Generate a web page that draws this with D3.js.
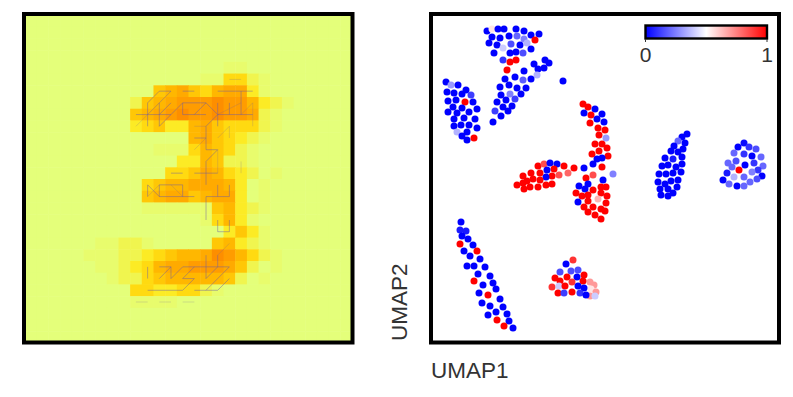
<!DOCTYPE html>
<html>
<head>
<meta charset="utf-8">
<script src="https://cdn.jsdelivr.net/npm/d3@7"></script>
<style>
  body { margin: 0; background: white; }
  text { font-family: "Liberation Sans", Arial, sans-serif; fill: #333; }
</style>
</head>
<body>
<script>
// digit image, one string per row, 0 = background, a = barely there, 9 = highest
const heatRows = [
  "0000000000000000000000000000",
  "0000000000000000000000000000",
  "0000000000000000000000000000",
  "0000000000000000000000000000",
  "00000000000000000aa000000000",
  "000000000000000aa331a0000000",
  "00000000000456435662a0000000",
  "0000000001456777877521a00000",
  "000000000456787787761a000000",
  "000000000234225643331a000000",
  "00000000000000564321a0000000",
  "00000000000aaa35431a00000000",
  "0000000000000225411a00000000",
  "000000000000334653210a000000",
  "00000000003455666520a0000000",
  "00000000004566456620a0000000",
  "0000000000aaaaaa4521a0000000",
  "000000000000000a352a00000000",
  "00000000000000000242a0000000",
  "000000aa11a000004521a0000000",
  "00000aaa1123455687531a000000",
  "000000aa1235667776410a000000",
  "0000000a113455555410a0000000",
  "0000000003322331a00000000000",
  "000000000aaaa000000000000000",
  "0000000000000000000000000000",
  "0000000000000000000000000000",
  "0000000000000000000000000000"
]

// graph edges between pixels: col0, row0, col1, row1
const edgesDark = [
  [11,6,12,6],[13,6,14,6],[16,6,19,6],[11,6,10,7],[10,7,10,9],[11,7,11,9],
  [9,8,12,8],[13,8,15,8],[16,8,19,8],[11,9,13,7],[13,7,13,8],[13,7,15,7],
  [14,8,15,7],[15,7,16,8],[16,7,16,9],[18,6,18,8],[17,7,17,8],[12,7,11,8],
  [15,9,15,11],[15,11,16,11],[14,10,15,10],[16,8,15,9],[16,11,15,12],[15,12,15,14],
  [14,13,16,13],[12,13,13,13],
  [11,14,13,14],[11,14,11,15],[13,14,13,15],[11,15,14,15],[10,14,11,15],[10,14,10,15],
  [15,15,17,15],[15,15,15,17],[16,14,16,15],[17,14,17,15],[16,17,16,18],[17,17,17,18],
  [16,18,17,18],[15,20,15,22],[16,20,16,21],
  [11,21,12,21],[13,21,17,21],[10,21,10,22],[12,21,12,22],[11,22,12,21],[12,22,13,21],
  [13,22,14,21],[15,22,16,21],[13,23,14,22],[13,22,14,22],[10,23,13,23],[14,23,16,23],
  [16,23,17,22],[15,23,17,21]
]
const edgesFaint = [
  [17,5,18,5],[12,6,10,8],[12,6,11,7],[9,9,11,7],[19,7,19,9],[18,8,19,7],[16,8,18,7],
  [14,9,15,9],[17,9,17,10],[16,10,17,9],[14,11,15,10],[16,11,16,13],[18,12,18,13],
  [10,15,11,14],[12,14,13,15],[17,19,16,20],[9,24,10,24],[11,24,12,24],[13,24,14,24]
]

// umap1, umap2, value
const clusterA = [
  [57,312,0],[62,314,.55],[68,314,0],[74,314,0],[86,314,0],[94,312,0],[101,308,0],[109,309,0],
  [62,306,0],[70,305,0],[79,307,0],[87,307,.2],[94,304,.25],[105,303,1],
  [59,300,0],[67,298,0],[81,299,.15],[90,298,0],[97,300,.35],[101,294,0],
  [73,295,.4],[64,290,0],[80,290,0],[86,291,0],[93,290,.15],
  [73,283,.1],[80,281,1],[86,283,1],[77,273,1]
]
const clusterB = [
  [104,279,0],[115,283,0],[119,280,0],[108,274,0],[114,275,0],[107,268,.35],[94,272,0],
  [101,264,0],[85,266,0],[75,264,0],[93,263,.18],[79,258,0],[70,256,0],[87,255,0],[96,255,0],
  [80,249,.25],[71,248,0],[91,249,0],[85,244,.12],[76,243,0],[67,241,0],[82,237,0],[73,236,0],
  [78,232,0],[65,232,.12],[71,227,0],[63,221,0],[133,262,0]
]
const clusterC = [
  [16,261,0],[21,258,.3],[28,258,0],[17,251,0],[24,250,0],[32,249,0],[36,253,0],[41,248,.12],
  [18,242,0],[26,243,0],[43,241,0],[35,241,1],[23,236,0],[32,235,0],[47,234,0],[18,231,0],
  [27,230,0],[39,231,0],[24,224,0],[34,225,0],[45,224,0],[24,217,0],[31,218,0],[39,218,0],
  [47,215,0],[27,211,.35],[37,211,0],[32,207,0],[37,203,0],[44,205,1]
]
const clusterD = [
  [153,239,1],[158,236,1],[165,234,0],[154,230,0],[161,228,1],[172,229,0],[167,224,0],[160,220,1],
  [174,221,0],[168,215,1],[175,213,1],[169,208,1],[176,205,.3],[165,199,1],[172,199,1],[177,195,1],
  [169,192,1],[162,189,1],[178,187,1],[172,185,0],[167,184,0],[163,179,0],[172,176,1],[154,175,0],
  [183,169,.25],[163,168,.85],[156,165,1],[173,163,0],[158,159,0],[149,157,0],[176,156,1],[171,156,1],
  [155,154,0],[163,153,1],[171,150,1],[146,150,1],[152,147,1],[158,148,1],[177,147,1],[158,142,1],
  [168,144,.65],[148,141,0],[176,140,1],[154,136,1],[163,136,1],[171,134,1],[175,132,1],[158,131,1],
  [165,128,1],[171,124,1]
]
const clusterE = [
  [108,177,1],[114,179,.85],[120,180,0],[127,179,0],[134,177,1],[124,174,1],[117,173,0],[144,175,1],
  [138,170,.8],[129,168,.85],[122,167,1],[116,166,0],[110,170,1],[101,170,1],[93,167,1],[97,162,1],
  [103,164,1],[110,163,1],[116,158,1],[122,159,1],[108,156,1],[100,156,1],[94,154,1],[87,158,1],[93,160,1]
]
const clusterF = [
  [257,209,0],[252,206,0],[248,202,.2],[255,200,0],[244,197,0],[253,194,0],[241,192,0],[248,191,0],
  [235,185,0],[252,186,0],[243,184,.05],[232,177,0],[238,178,0],[246,176,0],[252,179,0],[229,169,0],
  [236,169,0],[243,170,0],[251,171,0],[248,163,0],[228,161,0],[241,162,0],[235,159,0],[247,156,0],
  [230,154,0],[238,154,0],[243,150,0],[231,148,0],[238,147,0]
]
const clusterG = [
  [314,200,.02],[308,196,0],[319,196,.1],[326,194,.15],[304,190,.2],[314,189,.1],[322,187,0],[331,186,.2],
  [298,180,.2],[306,182,.15],[324,180,.1],[302,176,.2],[315,178,0],[333,177,.2],[309,173,1],[328,173,.1],
  [297,170,.05],[322,171,.25],[304,166,.35],[314,166,.2],[332,167,0],[293,163,0],[327,164,.15],[320,161,.2],
  [299,159,.2],[307,157,0],[314,157,.2]
]
const clusterH = [
  [31,121,0],[30,113,.05],[36,112,.05],[32,107,0],[38,104,0],[30,99,1],[43,98,0],[34,92,0],[47,92,1],
  [40,87,0],[50,84,0],[37,77,0],[44,77,0],[55,76,0],[48,69,0],[60,67,0],[44,62,1],[63,60,0],[53,58,0],
  [66,54,0],[49,50,0],[58,48,1],[70,44,0],[52,40,0],[60,37,0],[73,36,0],[66,31,0],[77,29,0],[58,28,0],
  [67,23,1],[79,22,0],[74,17,1],[83,15,0]
]
const clusterI = [
  [143,83,.9],[136,79,0],[130,71,.15],[141,72,.15],[148,73,.15],[154,68,1],[147,66,0],[125,65,1],[130,62,1],
  [137,66,1],[160,61,.7],[164,58,.7],[142,61,.9],[153,62,1],[122,56,.9],[129,57,.4],[135,57,1],[148,57,0],
  [161,54,.55],[166,51,.7],[154,55,0],[128,50,1],[134,50,.12],[142,51,1],[150,50,.1],[160,47,.7],[165,47,.4],[156,48,0]
]

const wistia = ["#e4ff7a", "#ffe81a", "#ffbd00", "#ffa000", "#fc7f00"]
const barTicks = [0, 1]

const svg = d3.select("body").append("svg")
    .attr("width", 793)
    .attr("height", 397)
    .style("display", "block")

// left panel
const heatColor = d3.scaleLinear().domain(d3.range(5).map(i => i / 4 * 9)).range(wistia)
const col = d3.scaleLinear().domain([-0.5, 27.5]).range([25, 352])
const row = d3.scaleLinear().domain([-0.5, 27.5]).range([15, 343])

const cells = []
heatRows.forEach((r, j) => r.split("").forEach((v, i) => cells.push({i: i, j: j, v: v === "a" ? 0.3 : +v})))

svg.append("g").selectAll("rect")
    .data(cells)
    .enter()
    .append("rect")
    .attr("x", d => col(d.i - 0.5))
    .attr("y", d => row(d.j - 0.5))
    .attr("width", col(1) - col(0) + 0.5)
    .attr("height", row(1) - row(0) + 0.5)
    .style("fill", d => heatColor(d.v))

function drawEdges(list, opacity) {
  svg.append("g").selectAll("line")
      .data(list)
      .enter()
      .append("line")
      .attr("x1", d => col(d[0]))
      .attr("y1", d => row(d[1]))
      .attr("x2", d => col(d[2]))
      .attr("y2", d => row(d[3]))
      .style("stroke", "#6a5aa8")
      .style("stroke-width", 1)
      .style("opacity", opacity)
}
drawEdges(edgesFaint, 0.2)
drawEdges(edgesDark, 0.45)

svg.append("rect")
    .attr("x", 24).attr("y", 14)
    .attr("width", 328.5).attr("height", 328.5)
    .style("fill", "none").style("stroke", "black").style("stroke-width", 4)

// right panel
const bwr = d3.scaleLinear().domain([0, 0.5, 1]).range(["#0000ff", "#ffffff", "#ff0000"])
const x = d3.scaleLinear().domain([0, 350]).range([430, 780])
const y = d3.scaleLinear().domain([0, 330]).range([343, 13])

const points = [].concat(clusterA, clusterB, clusterC, clusterD, clusterE, clusterF, clusterG, clusterH, clusterI)

svg.append("g").selectAll("circle")
    .data(points)
    .enter()
    .append("circle")
    .attr("cx", d => x(d[0]))
    .attr("cy", d => y(d[1]))
    .attr("r", 3.5)
    .style("fill", d => bwr(d[2]))

svg.append("rect")
    .attr("x", 431).attr("y", 14)
    .attr("width", 348).attr("height", 328.5)
    .style("fill", "none").style("stroke", "black").style("stroke-width", 4)

// colorbar
const grad = svg.append("defs").append("linearGradient").attr("id", "bwr")
grad.selectAll("stop")
    .data(bwr.domain())
    .enter()
    .append("stop")
    .attr("offset", d => d)
    .attr("stop-color", d => bwr(d))

const barX = d3.scaleLinear().domain([0, 1]).range([645.5, 767])

svg.append("rect")
    .attr("x", barX(0)).attr("y", 25.5)
    .attr("width", barX(1) - barX(0)).attr("height", 13)
    .style("fill", "url(#bwr)")
    .style("stroke", "black")
    .style("stroke-width", 2.4)

svg.append("g").selectAll("line")
    .data(barTicks)
    .enter()
    .append("line")
    .attr("x1", d => barX(d)).attr("x2", d => barX(d))
    .attr("y1", 39).attr("y2", 42)
    .style("stroke", "#333")

svg.append("g").selectAll("text")
    .data(barTicks)
    .enter()
    .append("text")
    .attr("x", d => barX(d))
    .attr("y", 62)
    .attr("text-anchor", "middle")
    .style("font-size", "21px")
    .text(d => d)

// axis names
svg.append("text")
    .attr("x", 431)
    .attr("y", 378)
    .style("font-size", "22.5px")
    .text("UMAP1")

svg.append("text")
    .attr("transform", "translate(407,341) rotate(-90)")
    .style("font-size", "22.5px")
    .text("UMAP2")
</script>
</body>
</html>
